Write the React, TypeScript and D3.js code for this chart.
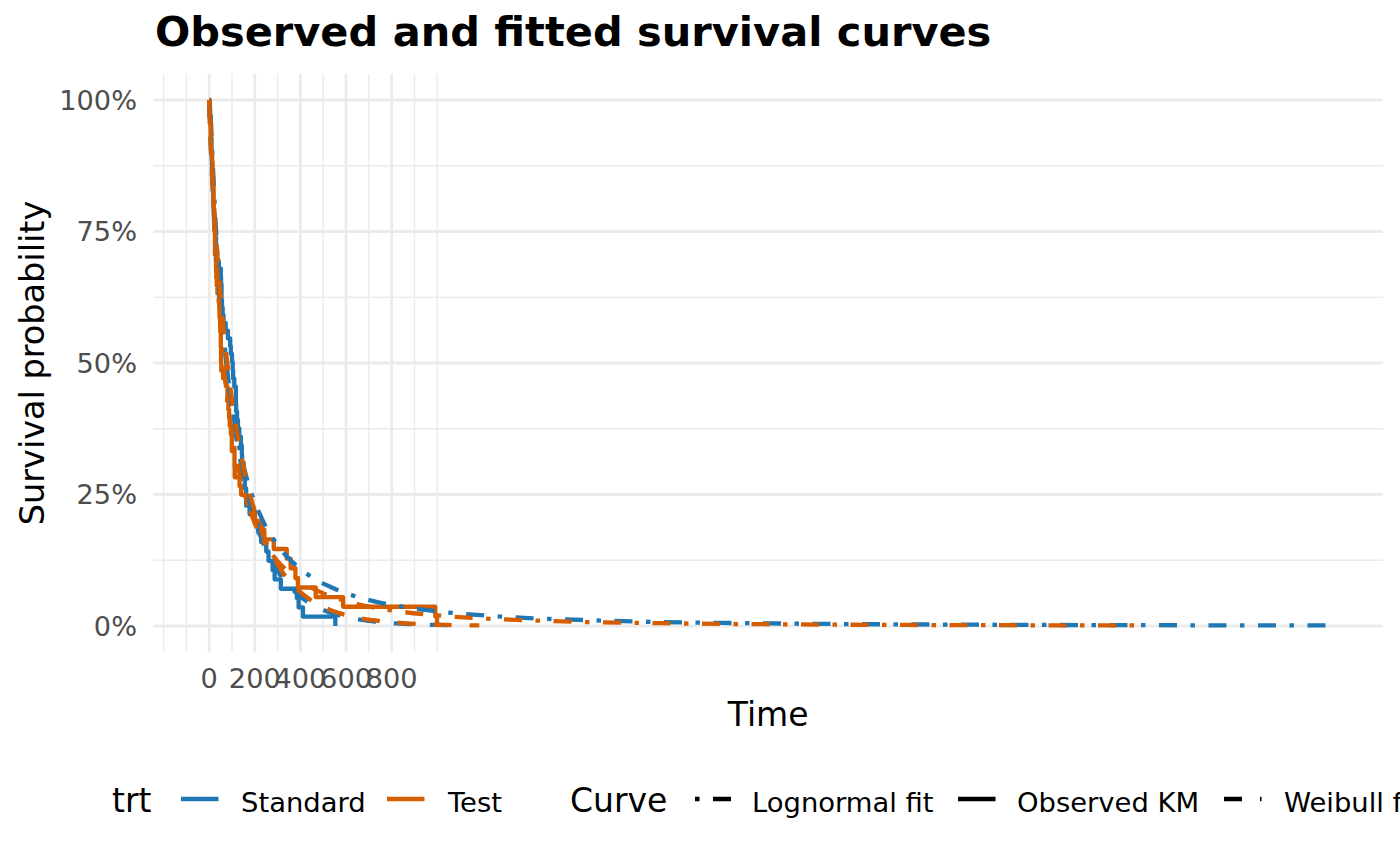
import React from "react";
import * as d3 from "d3";

// ---- Data: veteran lung cancer trial, time (days) and status (1 = death) ----
const standardTime = [72, 411, 228, 126, 118, 10, 82, 110, 314, 100, 42, 8, 144, 25, 11, 30, 384, 4, 54, 13, 123, 97, 153, 59, 117, 16, 151, 22, 56, 21, 18, 139, 20, 31, 52, 287, 18, 51, 122, 27, 54, 7, 63, 392, 10, 8, 92, 35, 117, 132, 12, 162, 3, 95, 177, 162, 216, 553, 278, 12, 260, 200, 156, 182, 143, 105, 103, 250, 100];
const standardStatus = [1, 1, 1, 1, 1, 1, 1, 1, 1, 0, 1, 1, 1, 0, 1, 1, 1, 1, 1, 1, 0, 0, 1, 1, 1, 1, 1, 1, 1, 1, 1, 1, 1, 1, 1, 1, 1, 1, 1, 1, 1, 1, 1, 1, 1, 1, 1, 1, 1, 1, 1, 1, 1, 1, 1, 1, 1, 1, 1, 1, 1, 1, 1, 0, 1, 1, 1, 1, 1];
const testTime = [999, 112, 87, 231, 242, 991, 111, 1, 587, 389, 33, 25, 357, 467, 201, 1, 30, 44, 283, 15, 25, 103, 21, 13, 87, 2, 20, 7, 24, 99, 8, 99, 61, 25, 95, 80, 51, 29, 24, 18, 83, 31, 51, 90, 52, 73, 8, 36, 48, 7, 140, 186, 84, 19, 45, 80, 52, 164, 19, 53, 15, 43, 340, 133, 111, 231, 378, 49];
const testStatus = [1, 1, 0, 0, 1, 1, 1, 1, 1, 1, 1, 1, 1, 1, 1, 1, 1, 1, 1, 1, 1, 0, 1, 1, 1, 1, 1, 1, 1, 1, 1, 1, 1, 1, 1, 1, 1, 1, 1, 1, 0, 1, 1, 1, 1, 1, 1, 1, 1, 1, 1, 1, 1, 1, 1, 1, 1, 1, 1, 1, 1, 1, 1, 1, 1, 1, 1, 1];

// ---- Fitted curves: survival level and the time read for it ----
const fitSurvival = [0.999, 0.99, 0.95, 0.9, 0.8, 0.7, 0.6, 0.5, 0.4, 0.3, 0.2, 0.15, 0.1, 0.07, 0.05, 0.03, 0.02, 0.01, 0.005, 0.003, 0.002, 0.0015, 0.001];
const lognormalStandardTime = [1.17, 3.27, 8.2, 13.4, 24.3, 37.2, 53.7, 75.6, 106.4, 153.4, 235.4, 306.2, 426.3, 553.9, 695.9, 957, 1209, 1747, 2446, 3087, 3680, 4154, 4901];
const lognormalTestTime = [0.97, 2.72, 6.82, 11.1, 20.2, 30.9, 44.6, 62.8, 88.4, 127.5, 195.6, 254.5, 354.3, 460.5, 578.5, 795.5, 1005, 1452, 2033, 2565, 3059, 3452, 4073];
const weibullStandardTime = [0.03, 0.51, 3.5, 8.15, 19.7, 34.2, 52.2, 74.7, 103.8, 143.1, 201.2, 244.2, 306.7, 363.3, 417.9, 502.9, 571.9, 692.9, 817.1, 910.6, 985.7, 1039.6, 1116.3];
const weibullTestTime = [0.04, 0.55, 3.71, 8.65, 20.9, 36.3, 55.4, 79.3, 110.1, 151.8, 213.5, 259.1, 325.3, 385.4, 443.3, 533.5, 606.7, 735.1, 866.8, 966.0, 1045.7, 1102.9, 1184.2];

const trtLevels = ["Standard", "Test"];
const curveLevels = ["Lognormal fit", "Observed KM", "Weibull fit"];
const xBreaks = [0, 200, 400, 600, 800];
const xMinorBreaks = [-200, -100, 100, 300, 500, 700, 900, 1000];
const yBreaks = [0, 0.25, 0.5, 0.75, 1];
const yMinorBreaks = [0.125, 0.375, 0.625, 0.875];

const colors: Record<string, string> = { Standard: "#1F77B4", Test: "#D55E00" };
const dashes: Record<string, string> = {
  "Lognormal fit": "4.5 13.5 18 13.5",
  "Observed KM": "none",
  "Weibull fit": "18 18",
};

type Pt = { t: number; s: number };

function kaplanMeier(times: number[], status: number[]): Pt[] {
  const deathTimes = Array.from(new Set(times.filter((_, i) => status[i] === 1))).sort((a, b) => a - b);
  const pts: Pt[] = [{ t: 0, s: 1 }];
  let s = 1;
  for (const t of deathTimes) {
    const n = times.filter((x) => x >= t).length;
    const d = times.filter((x, i) => x === t && status[i] === 1).length;
    s = s * (1 - d / n);
    pts.push({ t, s });
  }
  const maxT = d3.max(times)!;
  if (maxT > pts[pts.length - 1].t) pts.push({ t: maxT, s });
  return pts;
}

const fit = (times: number[]): Pt[] => times.map((t, i) => ({ t, s: fitSurvival[i] }));

export default function App() {
  const W = 1400;
  const H = 866;
  const font = "DejaVu Sans";
  const panel = { left: 153.3, right: 1383, top: 73.7, bottom: 652.3 };

  const kmStd = kaplanMeier(standardTime, standardStatus);
  const kmTest = kaplanMeier(testTime, testStatus);
  const allT = [
    ...standardTime, ...testTime,
    ...lognormalStandardTime, ...lognormalTestTime, ...weibullStandardTime, ...weibullTestTime,
  ];
  const maxT = d3.max(allT)!;
  const x = d3.scaleLinear().domain([-0.05 * maxT, 1.05 * maxT]).range([panel.left, panel.right]);
  const y = d3.scaleLinear().domain([-0.05, 1.05]).range([panel.bottom, panel.top]);

  const stepLine = d3.line<Pt>().x((d) => x(d.t)).y((d) => y(d.s)).curve(d3.curveStepAfter);
  const smoothLine = d3.line<Pt>().x((d) => x(d.t)).y((d) => y(d.s)).curve(d3.curveMonotoneX);

  const kmSeries = [
    { trt: "Standard", pts: kmStd },
    { trt: "Test", pts: kmTest },
  ];
  const fitSeries = [
    { trt: "Standard", curve: "Lognormal fit", pts: fit(lognormalStandardTime) },
    { trt: "Standard", curve: "Weibull fit", pts: fit(weibullStandardTime) },
    { trt: "Test", curve: "Lognormal fit", pts: fit(lognormalTestTime) },
    { trt: "Test", curve: "Weibull fit", pts: fit(weibullTestTime) },
  ];

  const lw = 4.3;
  const fmtPct = d3.format(".0%");
  const keyY = 799;
  const labelBase = 812;

  const trtKeyX = [181, 387];
  const trtLabelX = [241, 448];
  const curveKeyX = [695, 958, 1224];
  const curveLabelX = [752, 1017, 1284];
  const keyLen = 37.5;
  const tickSize = 27.2;
  const legendTextSize = 27.4;

  return (
    <svg width={W} height={H} style={{ position: "absolute", left: 0, top: 0, background: "#fff" }} fontFamily={font}>
      <rect width={W} height={H} fill="#fff" />
      {/* grid */}
      <g>
        {xMinorBreaks.map((b) => (
          <line key={"xm" + b} x1={x(b)} x2={x(b)} y1={panel.top} y2={panel.bottom} stroke="#EBEBEB" strokeWidth={1.4} />
        ))}
        {yMinorBreaks.map((b) => (
          <line key={"ym" + b} x1={panel.left} x2={panel.right} y1={y(b)} y2={y(b)} stroke="#EBEBEB" strokeWidth={1.4} />
        ))}
        {xBreaks.map((b) => (
          <line key={"xM" + b} x1={x(b)} x2={x(b)} y1={panel.top} y2={panel.bottom} stroke="#EBEBEB" strokeWidth={2.8} />
        ))}
        {yBreaks.map((b) => (
          <line key={"yM" + b} x1={panel.left} x2={panel.right} y1={y(b)} y2={y(b)} stroke="#EBEBEB" strokeWidth={2.8} />
        ))}
      </g>
      {/* KM curves */}
      <g>
        {kmSeries.map((s) => (
          <path key={"km" + s.trt} d={stepLine(s.pts)!} fill="none" stroke={colors[s.trt]} strokeWidth={lw} strokeLinejoin="round" />
        ))}
      </g>
      {/* fitted curves */}
      <g>
        {fitSeries.map((s) => (
          <path
            key={s.trt + s.curve}
            d={smoothLine(s.pts)!}
            fill="none"
            stroke={colors[s.trt]}
            strokeWidth={lw}
            strokeDasharray={dashes[s.curve]}
            strokeLinecap="butt"
          />
        ))}
      </g>
      {/* axes text */}
      <g fill="#4D4D4D" fontSize={tickSize}>
        {yBreaks.map((b) => (
          <text key={"yt" + b} x={137} y={y(b)} textAnchor="end" dominantBaseline="central">
            {fmtPct(b)}
          </text>
        ))}
        {xBreaks.map((b) => (
          <text key={"xt" + b} x={x(b)} y={688} textAnchor="middle">
            {b}
          </text>
        ))}
      </g>
      <text x={(panel.left + panel.right) / 2} y={726} textAnchor="middle" fontSize={33} fill="#000">
        Time
      </text>
      <text
        transform={`translate(44, ${(panel.top + panel.bottom) / 2}) rotate(-90)`}
        textAnchor="middle"
        fontSize={33.5}
        fill="#000"
      >
        Survival probability
      </text>
      <text x={155} y={46} fontSize={41.5} fontWeight="bold" fill="#000">
        Observed and fitted survival curves
      </text>
      {/* legend */}
      <g>
        <text x={112} y={labelBase} fontSize={33}>trt</text>
        {trtLevels.map((t, i) => (
          <g key={t}>
            <line x1={trtKeyX[i]} x2={trtKeyX[i] + keyLen} y1={keyY} y2={keyY} stroke={colors[t]} strokeWidth={lw} />
            <text x={trtLabelX[i]} y={labelBase} fontSize={legendTextSize}>{t}</text>
          </g>
        ))}
        <text x={570} y={labelBase} fontSize={33}>Curve</text>
        {curveLevels.map((c, i) => (
          <g key={c}>
            <line x1={curveKeyX[i]} x2={curveKeyX[i] + keyLen} y1={keyY} y2={keyY} stroke="#000" strokeWidth={lw} strokeDasharray={dashes[c]} />
            <text x={curveLabelX[i]} y={labelBase} fontSize={legendTextSize}>{c}</text>
          </g>
        ))}
      </g>
    </svg>
  );
}
